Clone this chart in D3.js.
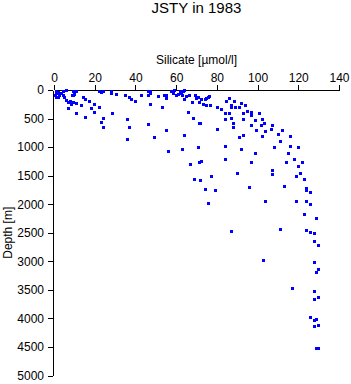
<!DOCTYPE html>
<html>
<head>
<meta charset="utf-8">
<script src="https://cdn.jsdelivr.net/npm/d3@7"></script>
<style>
  body { margin: 0; background: #fff; }
  text { font-family: "Liberation Sans", Arial, sans-serif; }
</style>
</head>
<body>
<svg id="drawing_region"></svg>
<script>
// silicate [umol/l] and depth [m]
const silicate = [
    1.0, 1.0, 1.0, 2.0, 2.9, 3.9, 4.9, 4.9, 5.4, 2.0, 0.5, 5.9, 5.9, 7.0, 8.2, 8.7, 9.5, 7.0, 11.1, 9.5,
    10.8, 9.5, 10.3, 11.1, 9.2, 13.6, 11.1, 14.4, 15.6, 17.3, 20.1, 18.5, 20.1, 22.2, 15.5, 28.8, 24.2, 23.4, 24.2, 22.2,
    23.4, 24.2, 28.0, 28.0, 30.8, 34.9, 37.3, 38.2, 40.1, 43.1, 46.3, 47.2, 46.3, 47.5, 47.2, 51.2, 54.5, 55.3, 55.3, 53.2,
    57.8, 58.6, 59.4, 60.3, 61.1, 61.9, 62.7, 63.5, 64.3, 63.0, 64.0, 65.2, 66.8, 68.1, 69.7, 70.1, 70.9, 71.4, 66.0, 68.3,
    36.0, 37.3, 46.3, 55.3, 64.0, 71.4, 36.2, 49.3, 56.1, 63.0, 71.2, 66.9, 71.4, 68.9, 72.0,
    72.5, 74.2, 75.0, 75.8, 76.3, 73.3, 75.0, 77.0, 72.2, 80.2, 82.3, 84.8, 86.1, 87.3, 87.3, 88.9, 89.2, 91.0, 92.2, 93.9,
    94.9, 96.8, 101.0, 84.1, 86.1, 84.1, 87.2, 88.1, 88.1, 93.0, 93.3, 97.1, 98.8, 97.0, 99.4, 103.2, 102.0, 106.8, 107.3, 102.2,
    104.1, 80.2, 93.0, 91.0, 112.1, 110.2, 116.1, 111.1, 102.2, 99.0, 92.0, 84.1, 72.5, 84.1, 96.9, 107.2, 107.2, 114.1, 118.0, 122.0,
    120.0, 121.0, 119.0, 122.9, 113.1, 123.8, 123.8, 125.9, 116.1, 120.0, 108.2, 115.1, 90.0, 77.3, 74.2, 79.2, 95.9, 119.0, 123.9, 125.9,
    122.9, 128.8, 104.0, 76.1, 87.1, 111.1, 123.9, 126.0, 127.8, 127.8, 129.8, 103.1, 127.8, 129.9, 128.8, 117.0, 127.8, 129.8, 127.8, 126.0,
    127.8, 128.9, 127.8, 129.8, 128.9, 129.8
];
const depth = [
    18, 70, 140, 44, 105, 70, 18, 105, 140, 123, 88, 12, 187, 222, 193, 250, 222, 327, 408, 88,
    30, 35, 75, 18, 93, 268, 245, 135, 163, 210, 254, 327, 397, 310, 485, 408, 499, 569, 657, 18,
    44, 18, 18, 58, 75, 105, 135, 163, 193, 93, 35, 18, 105, 58, 250, 114, 105, 152, 93, 301,
    23, 53, 9, 96, 75, 26, 53, 18, 9, 88, 158, 114, 93, 214, 105, 145, 135, 215, 397, 499,
    508, 657, 601, 709, 797, 590, 863, 828, 1073, 1038, 1003, 1308, 1266, 1562, 1585,
    163, 175, 152, 135, 114, 250, 268, 263, 587, 310, 338, 210, 149, 268, 310, 201, 310, 310, 233, 277,
    368, 399, 408, 408, 408, 513, 499, 578, 651, 408, 513, 455, 539, 618, 706, 595, 630, 700, 616, 513,
    727, 688, 800, 828, 713, 788, 809, 902, 809, 1108, 1045, 981, 1248, 1220, 1264, 1406, 1476, 1266, 1220, 1266,
    1336, 1467, 1511, 1564, 1693, 1721, 1763, 1790, 981, 1010, 1010, 1108, 1462, 1509, 1739, 1755, 1707, 1949, 1961, 2008,
    2176, 2247, 1949, 1984, 2481, 2443, 2460, 2492, 2509, 2653, 2719, 2982, 3015, 3140, 3192, 3472, 3525, 3630, 3665, 3980,
    4031, 4015, 4138, 4120, 4523, 4523
];

const xticks = [0, 20, 40, 60, 80, 100, 120, 140];
const yticks = [0, 500, 1000, 1500, 2000, 2500, 3000, 3500, 4000, 4500, 5000];

const title = 'JSTY in 1983';
const xlabel = 'Silicate [\u00b5mol/l]';
const ylabel = 'Depth [m]';

const data = silicate.map( (s, i) => ({ x: s, y: depth[i] }) );

var config = {
    parent: '#drawing_region',
    width: 351,
    height: 384,
    margin: {top:90, right:12, bottom:8.5, left:54}
};

class DepthProfile {

    constructor( config, data ) {
        this.config = config;
        this.data = data;
        this.init();
    }

    init() {
        let self = this;

        self.svg = d3.select( self.config.parent )
            .attr('width', self.config.width)
            .attr('height', self.config.height);

        self.inner_width = self.config.width - self.config.margin.left - self.config.margin.right;
        self.inner_height = self.config.height - self.config.margin.top - self.config.margin.bottom;

        self.chart = self.svg.append('g')
            .attr('transform', `translate(${self.config.margin.left}, ${self.config.margin.top})`);

        self.xscale = d3.scaleLinear()
            .domain( [0, 140] )
            .range( [0, self.inner_width] );

        // depth grows downward
        self.yscale = d3.scaleLinear()
            .domain( [0, 5000] )
            .range( [0, self.inner_height] );

        self.xaxis = d3.axisTop( self.xscale )
            .tickValues( xticks )
            .tickFormat( d3.format('d') )
            .tickSize(5)
            .tickSizeOuter(0)
            .tickPadding(3);

        self.yaxis = d3.axisLeft( self.yscale )
            .tickValues( yticks )
            .tickFormat( d3.format('d') )
            .tickSize(5)
            .tickSizeOuter(0)
            .tickPadding(4);

        self.xaxis_group = self.chart.append('g');
        self.yaxis_group = self.chart.append('g')
            .attr('transform', 'translate(-1, 0)');

        // title
        self.svg.append('text')
            .attr('x', self.config.margin.left + self.inner_width / 2)
            .attr('y', 13)
            .attr('text-anchor', 'middle')
            .style('font-size', '15px')
            .text(title);

        // x label (above the top axis)
        self.svg.append('text')
            .attr('x', self.config.margin.left + self.inner_width / 2)
            .attr('y', 64)
            .attr('text-anchor', 'middle')
            .style('font-size', '12px')
            .text(xlabel);

        // y label
        self.svg.append('text')
            .attr('transform', 'rotate(-90)')
            .attr('x', -(self.config.margin.top + self.inner_height / 2))
            .attr('y', 12)
            .attr('text-anchor', 'middle')
            .style('font-size', '12px')
            .text(ylabel);
    }

    render() {
        let self = this;
        const s = 3;

        self.chart.selectAll('rect.pt')
            .data(self.data)
            .enter()
            .append('rect')
            .attr('class', 'pt')
            .attr('x', d => Math.round(self.xscale(d.x) - s / 2))
            .attr('y', d => Math.round(self.yscale(d.y) - s / 2))
            .attr('width', s)
            .attr('height', s)
            .attr('fill', '#0000ff');

        self.xaxis_group.call( self.xaxis );
        self.yaxis_group.call( self.yaxis );

        self.svg.selectAll('.tick text')
            .style('font-size', '12px')
            .style('font-family', '"Liberation Sans", Arial, sans-serif')
            .attr('fill', '#000');
        self.svg.selectAll('.domain, .tick line')
            .attr('stroke', '#000')
            .attr('shape-rendering', 'crispEdges');
    }
}

const profile = new DepthProfile( config, data );
profile.render();
</script>
</body>
</html>
